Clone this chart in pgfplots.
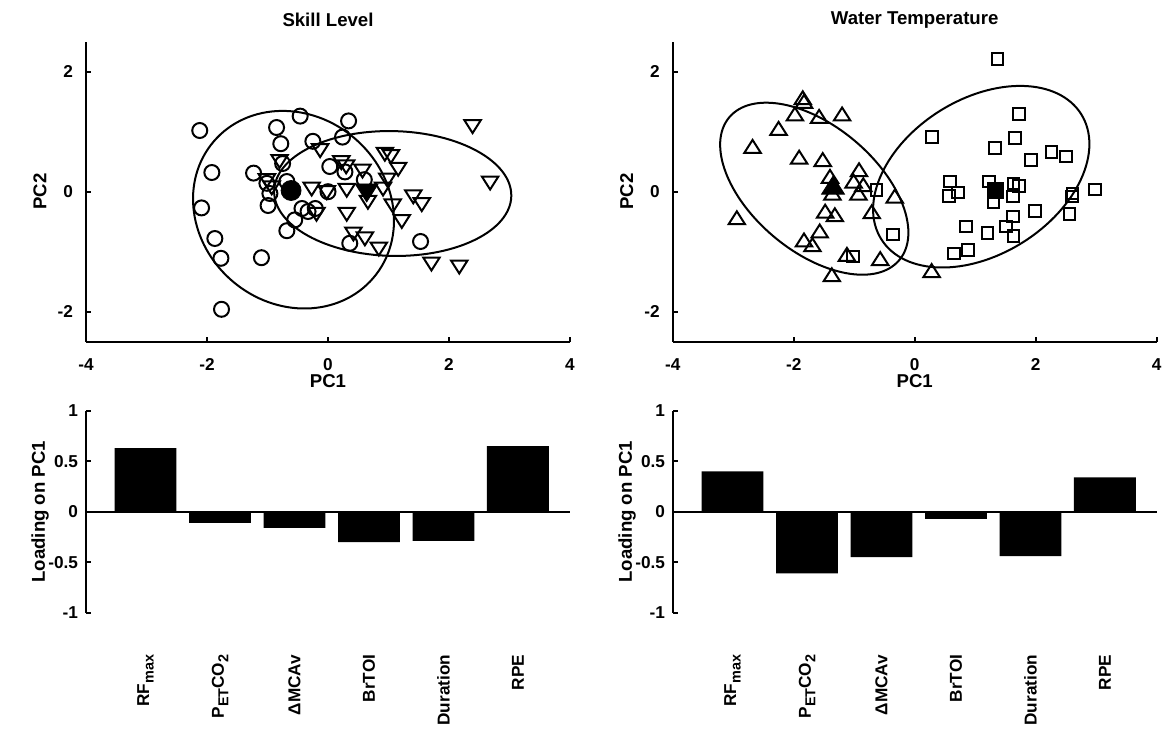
\documentclass[border=0pt]{standalone}
\usepackage{fontspec}
\setmainfont{Liberation Sans}
\usepackage{pgfplots}
\pgfplotsset{compat=1.18}

\newcommand{\ff}{\fontsize{8.6}{10}\selectfont\bfseries}
\newcommand{\fl}{\fontsize{9.3}{11}\selectfont\bfseries}
\newcommand{\sub}[1]{\raisebox{-0.5ex}{\fontsize{7.2}{8}\selectfont #1}}

\pgfplotsset{
  matfig/.style={
    scale only axis, width=242pt,
    axis lines=left, axis line style={-, line width=0.85pt},
    tick style={line width=0.85pt, black}, tick align=inside, major tick length=2.5pt,
    font=\ff, tick label style={font=\ff}, label style={font=\fl},
    every axis title shift=0pt,
    title style={font=\fl, at={(axis description cs:0.5,1.072)}, anchor=center},
    clip=false,
  },
  pcscatter/.style={matfig, height=150pt,
    xmin=-4, xmax=4, ymin=-2.5, ymax=2.5,
    xtick={-4,-2,0,2,4}, xticklabels={-4,-2,0,2,4},
    ytick={-2,0,2}, yticklabels={-2,0,2},
    xticklabel style={yshift=-4.7pt}, yticklabel style={xshift=-3pt},
    xlabel={PC1}, ylabel={PC2},
    xlabel style={at={(axis description cs:0.5,-0.131)}, anchor=center},
    ylabel style={at={(axis description cs:-0.095,0.5)}, anchor=center},
  },
  loadbar/.style={matfig, height=101pt,
    xmin=0.2, xmax=6.7, ymin=-1, ymax=1,
    x axis line style={draw=none}, xtick style={draw=none},
    xtick={1,...,6},
    xticklabels={RF\sub{max}, P\sub{ET}CO\sub{2}, ΔMCAv, BrTOI, Duration, RPE},
    xticklabel style={yshift=-17.5pt, rotate=90, anchor=east},
    ytick={-1,-0.5,0,0.5,1}, yticklabels={-1,-0.5,0,0.5,1},
    yticklabel style={xshift=-0.5pt},
    ylabel={Loading on PC1},
    ylabel style={at={(axis description cs:-0.095,0.5)}, anchor=center},
  },
  opencirc/.style={only marks, mark=o, mark size=3.75pt, line width=1pt, black},
  downtri/.style={only marks, mark=triangle, mark size=4.3pt, line width=1pt, black,
    mark options={rotate=180, xscale=1.1}},
  uptri/.style={only marks, mark=triangle, mark size=4.3pt, line width=1pt, black,
    mark options={xscale=1.1}},
  opensq/.style={only marks, mark=square, mark size=2.9pt, line width=1pt, black},
}

\begin{document}
\begin{tikzpicture}
\useasboundingbox (0,0) rectangle (583.5pt,367.5pt);

% ---- Skill level scores
\begin{axis}[pcscatter, at={(43pt,196.65pt)}, anchor=south west, title={Skill Level}]
\addplot[opencirc] coordinates {
 (-2.12,1.02) (-0.46,1.26) (-0.85,1.07) (0.34,1.18) (-0.78,0.80) (-0.25,0.84)
 (0.24,0.91) (-1.92,0.32) (-1.23,0.31) (0.03,0.42) (0.28,0.33) (0.60,0.20)
 (-1.01,0.14) (-0.96,-0.03) (-0.99,-0.23) (-0.75,0.47) (-0.68,0.17) (0.00,0.00)
 (-0.43,-0.28) (-0.33,-0.33) (-0.21,-0.28) (-0.55,-0.47) (-0.68,-0.65) (0.36,-0.86)
 (1.53,-0.83) (-2.09,-0.27) (-1.87,-0.78) (-1.77,-1.11) (-1.10,-1.10) (-1.76,-1.96)
};
\addplot[downtri] coordinates {
 (-0.13,0.72) (-0.80,0.54) (0.22,0.52) (0.30,0.45) (0.57,0.38) (-1.01,0.22)
 (-0.93,0.10) (-0.27,0.08) (-0.02,0.02) (0.31,0.06) (0.31,-0.34) (-0.19,-0.34)
 (0.42,-0.67) (0.61,-0.75) (0.84,-0.92) (0.66,-0.14) (2.39,1.12) (2.68,0.18)
 (0.94,0.66) (1.04,0.62) (1.16,0.41) (0.98,0.23) (0.91,0.08) (1.41,-0.05)
 (1.55,-0.18) (1.07,-0.20) (1.22,-0.46) (1.71,-1.17) (2.17,-1.22)
};
\addplot[only marks, mark=*, mark size=5pt, black] coordinates {(-0.61,0.02)};
\addplot[only marks, mark=triangle*, mark size=6pt, black,
  mark options={rotate=180, xscale=1.1}] coordinates {(0.64,0.03)};
\draw[line width=1pt, rotate around={-40.6:(axis cs:-0.57,-0.30)}]
  (axis cs:-0.57,-0.30) ellipse [x radius=52.5pt, y radius=47pt];
\draw[line width=1pt, rotate around={-1.3:(axis cs:1.07,-0.03)}]
  (axis cs:1.07,-0.03) ellipse [x radius=59.3pt, y radius=31.2pt];
\end{axis}

% ---- Water temperature scores
\begin{axis}[pcscatter, at={(336.35pt,196.65pt)}, anchor=south west, title={Water Temperature}]
\addplot[uptri] coordinates {
 (-1.85,1.53) (-1.83,1.47) (-1.98,1.26) (-1.58,1.22) (-1.20,1.26) (-2.25,1.02)
 (-2.68,0.72) (-1.91,0.54) (-1.52,0.50) (-1.40,0.22) (-0.92,0.33) (-1.01,0.14)
 (-0.85,0.08) (-1.36,-0.06) (-0.93,-0.06) (-0.33,-0.11) (-1.48,-0.36) (-1.32,-0.42)
 (-0.71,-0.37) (-2.94,-0.47) (-1.57,-0.69) (-1.83,-0.84) (-1.69,-0.92) (-1.12,-1.08)
 (-0.57,-1.15) (-1.37,-1.42) (0.28,-1.35)
};
\addplot[opensq] coordinates {
 (1.37,2.21) (1.72,1.30) (0.29,0.91) (1.66,0.90) (1.33,0.73) (1.92,0.53)
 (2.26,0.66) (2.50,0.59) (0.58,0.17) (0.72,-0.01) (0.57,-0.07) (1.23,0.17)
 (1.30,-0.17) (1.63,0.14) (1.72,0.10) (1.62,-0.08) (2.61,-0.03) (2.60,-0.08)
 (2.98,0.04) (2.56,-0.37) (1.99,-0.32) (1.62,-0.41) (1.51,-0.58) (1.63,-0.74)
 (0.85,-0.58) (1.20,-0.69) (0.65,-1.03) (0.88,-0.97) (-0.63,0.03) (-0.36,-0.71)
 (-1.02,-1.08)
};
\addplot[only marks, mark=triangle*, mark size=6pt, black,
  mark options={xscale=1.1}] coordinates {(-1.35,0.06)};
\addplot[only marks, mark=square*, mark size=4pt, black] coordinates {(1.34,0.02)};
\draw[line width=1pt, rotate around={-40:(axis cs:-1.66,0.05)}]
  (axis cs:-1.66,0.05) ellipse [x radius=55.5pt, y radius=31.35pt];
\draw[line width=1pt, rotate around={32:(axis cs:1.10,0.25)}]
  (axis cs:1.10,0.25) ellipse [x radius=58.95pt, y radius=38.85pt];
\end{axis}

% ---- loadings, skill level
\begin{axis}[loadbar, at={(43pt,61.15pt)}, anchor=south west]
\addplot[ybar, bar width=0.83, fill=black, draw=none] coordinates {
 (1,0.63) (2,-0.11) (3,-0.16) (4,-0.30) (5,-0.29) (6,0.65)
};
\addplot[black, line width=1pt] coordinates {(0.2,0) (6.7,0)};
\end{axis}

% ---- loadings, water temperature
\begin{axis}[loadbar, at={(336.5pt,61.15pt)}, anchor=south west]
\addplot[ybar, bar width=0.83, fill=black, draw=none] coordinates {
 (1,0.40) (2,-0.61) (3,-0.45) (4,-0.07) (5,-0.44) (6,0.34)
};
\addplot[black, line width=1pt] coordinates {(0.2,0) (6.7,0)};
\end{axis}
\end{tikzpicture}
\end{document}
